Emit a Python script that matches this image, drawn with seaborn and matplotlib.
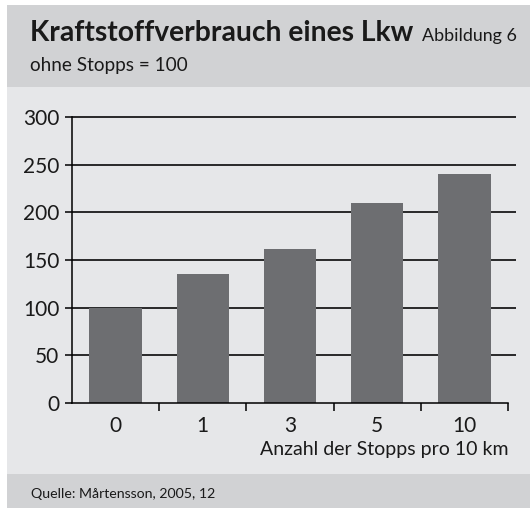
import matplotlib
matplotlib.use("Agg")
import matplotlib.pyplot as plt
from matplotlib.patches import Rectangle
import pandas as pd
import seaborn as sns

# chart data
stops = ["0", "1", "3", "5", "10"]
consumption = [100, 135, 162, 210, 240]
y_ticks = [0, 50, 100, 150, 200, 250, 300]

title = "Kraftstoffverbrauch eines Lkw"
figure_no = "Abbildung 6"
subtitle = "ohne Stopps = 100"
x_label = "Anzahl der Stopps pro 10 km"
source = "Quelle: Mårtensson, 2005, 12"

W, H = 530, 508
HEADER = "#d1d2d4"
BODY = "#e6e7e9"
BAR = "#6d6e71"

sns.set_style("white")
plt.rcParams["font.family"] = ["Lato", "DejaVu Sans"]


def fx(px):
    return px / W


def fy(py):
    return 1 - py / H


fig = plt.figure(figsize=(W / 100, H / 100), dpi=100)
fig.patch.set_facecolor("white")

# background panels (header, body, footer)
for y0, y1, c in [(5, 87, HEADER), (87, 474, BODY), (474, 508, HEADER)]:
    fig.add_artist(Rectangle((fx(7), fy(y1)), 1 - fx(7), (y1 - y0) / H,
                             transform=fig.transFigure, facecolor=c,
                             edgecolor="none", zorder=0))

ax = fig.add_axes([fx(72), fy(403), fx(508) - fx(72), fy(117) - fy(403)])
ax.set_facecolor("none")

df = pd.DataFrame({"stops": stops, "value": consumption})
sns.barplot(data=df, x="stops", y="value", order=stops, color=BAR,
            width=0.6, saturation=1, ax=ax, zorder=3,
            edgecolor="none", linewidth=0)

ax.set_ylim(0, 300)
ax.set_xlim(-0.5, len(stops) - 0.5)

# grid lines, a little past the last tick on the right
ax.hlines(y_ticks[1:], -0.5, len(stops) - 0.41, colors="#1a1a1a",
          linewidth=1.3, zorder=1, clip_on=False)

for s in ["top", "right"]:
    ax.spines[s].set_visible(False)
for s in ["left", "bottom"]:
    ax.spines[s].set_color("black")
    ax.spines[s].set_linewidth(1.1)
    ax.spines[s].set_zorder(4)

ax.set_yticks(y_ticks)
ax.tick_params(axis="y", length=5, width=1.1, color="black", pad=4,
               labelsize=15, labelcolor="#1a1a1a", left=True)

# x labels at bar centres, tick marks between categories
ax.set_xticks(range(len(stops)))
ax.set_xticklabels(stops)
ax.tick_params(axis="x", which="major", length=0, pad=9, labelsize=15,
               labelcolor="#1a1a1a")
ax.set_xticks([i + 0.5 for i in range(len(stops))], minor=True)
ax.tick_params(axis="x", which="minor", length=6, width=1.1, color="black",
               bottom=True)
ax.set_xlabel("")
ax.set_ylabel("")

fig.text(fx(508), fy(455), x_label, ha="right", va="baseline", fontsize=14,
         color="#1a1a1a")

# header and footer text
fig.text(fx(30), fy(41), title, ha="left", va="baseline", fontsize=20.3,
         fontweight="bold", color="#1a1a1a")
fig.text(fx(422), fy(41), figure_no, ha="left", va="baseline", fontsize=12.9,
         color="#1a1a1a")
fig.text(fx(30), fy(71), subtitle, ha="left", va="baseline", fontsize=13.6,
         color="#1a1a1a")
fig.text(fx(31), fy(498), source, ha="left", va="baseline", fontsize=10.2,
         color="#1a1a1a")

fig.savefig("out.png", dpi=100)
